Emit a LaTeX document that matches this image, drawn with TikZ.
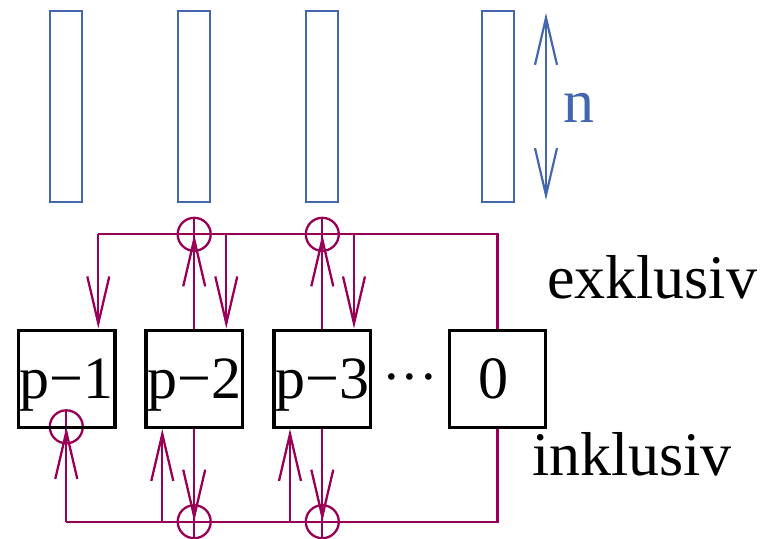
\documentclass[tikz,border=0pt]{standalone}
\usepackage{fontspec}
\setmainfont{Liberation Serif}
\usetikzlibrary{arrows.meta}
\definecolor{bl}{RGB}{68,102,175}
\definecolor{mg}{RGB}{153,0,85}
\begin{document}
\begin{tikzpicture}[x=0.5pt,y=-0.5pt,
  col/.style={draw=bl, line width=1.1pt, inner sep=0pt, minimum width=16pt, minimum height=95.5pt},
  bus/.style={draw=mg, line width=1.15pt},
  tip/.style={-{Straight Barb[length=23.5pt,width=11pt,line width=1.15pt]}},
  btip/.style={{Straight Barb[length=23.5pt,width=11pt,line width=1.1pt]}-{Straight Barb[length=23.5pt,width=11pt,line width=1.1pt]}},
  proc/.style={draw=black, line width=1.6pt, inner sep=0pt, minimum width=48.3pt, minimum height=48.6pt,
    font=\fontsize{30}{36}\selectfont, text depth=0pt},
  plus/.style={circle, draw=mg, line width=1.15pt, inner sep=0pt, minimum size=16.5pt,
    path picture={\draw[mg,line width=1.15pt] (path picture bounding box.north) -- (path picture bounding box.south);}},
  lab/.style={font=\fontsize{31}{36}\selectfont, inner sep=0pt, anchor=base west}
]
\useasboundingbox (0,0) rectangle (766,538);

% columns
\node[col] (c1) at (66.3,106.7) {};
\node[col] (c2) at (194.3,106.7) {};
\node[col] (c3) at (322.3,106.7) {};
\node[col] (c4) at (497.8,106.7) {};
\coordinate (nt) at (546,13);
\coordinate (nb) at (546,200);
\draw[draw=bl, line width=1.1pt, btip] (nt) -- (nb);
\node[lab, text=bl] (n) at (563.3,122.7) {n};

% circles
\node[plus] (o2t) at (194.2,234.3) {};
\node[plus] (o3t) at (322.3,234.3) {};
\node[plus] (o2b) at (194.2,521.7) {};
\node[plus] (o3b) at (322.3,521.7) {};
\node[plus] (o1) at (66.3,426.8) {};

% processors
\node[proc] (p1) at (66.7,378.7) {p−1};
\node[proc] (p2) at (194.2,378.7) {p−2};
\node[proc] (p3) at (322.3,378.7) {p−3};
\node[proc] (z) at (497.5,378.7) {0\hspace*{4pt}};
\node[font=\fontsize{28}{36}\selectfont, inner sep=0pt, anchor=base] (dots) at (410,395) {···};

% exclusive (top) bus
\coordinate (tl) at (98.3,234.3);
\coordinate (d2) at (226.3,234.3);
\coordinate (d3) at (354,234.3);
\draw[bus] (z.north) |- (tl);
\draw[bus,tip] (tl) -- (tl |- p1.north);
\draw[bus,tip] (d2) -- (d2 |- p2.north);
\draw[bus,tip] (d3) -- (d3 |- p3.north);
\draw[bus,tip] (p2.north) -- (o2t.center);
\draw[bus,tip] (p3.north) -- (o3t.center);

% inclusive (bottom) bus
\coordinate (bl0) at (66.3,521.7);
\coordinate (u2) at (162.3,521.7);
\coordinate (u3) at (290,521.7);
\draw[bus] (z.south) |- (bl0);
\draw[bus,tip] (bl0) -- (o1.center);
\draw[bus,tip] (u2) -- (u2 |- p2.south);
\draw[bus,tip] (u3) -- (u3 |- p3.south);
\draw[bus,tip] (p2.south) -- (o2b.center);
\draw[bus,tip] (p3.south) -- (o3b.center);

% labels
\node[lab] (ex) at (546.7,298) {exklusiv};
\node[lab] (in) at (531.7,475) {inklusiv};
\end{tikzpicture}
\end{document}
